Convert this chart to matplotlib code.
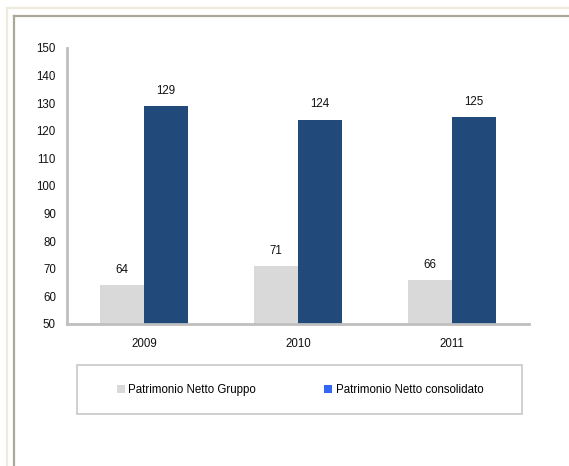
import matplotlib
matplotlib.use("Agg")
import matplotlib.pyplot as plt
from matplotlib.lines import Line2D
from matplotlib.patches import Patch, Rectangle
import numpy as np

plt.rcParams['font.family'] = ['Liberation Sans', 'DejaVu Sans']

# data
years = ["2009", "2010", "2011"]
netto_gruppo = [64, 71, 66]
netto_consolidato = [129, 124, 125]
series_names = ["Patrimonio Netto Gruppo", "Patrimonio Netto consolidato"]

W, H = 569, 466
FS = 8.3
fig = plt.figure(figsize=(W / 100, H / 100), dpi=100)

def px(x, y):
    # pixel coords (from top-left) -> figure fraction
    return x / W, 1 - y / H

# page frame lines
beige = "#EEEBDC"
frame_gray = "#ACA899"
for (x0, y0, x1, y1, c) in [(7, 8, W, 8, beige), (7, 8, 7, H, beige),
                            (14, 16, W, 16, frame_gray), (14, 16, 14, H, frame_gray)]:
    a, b = px(x0, y0)
    c2, d = px(x1, y1)
    fig.add_artist(Line2D([a, c2], [b, d], color=c, lw=1.6, transform=fig.transFigure))

# axes area
left, top, right, bottom = 67, 48, 529, 324
ax = fig.add_axes([left / W, 1 - bottom / H, (right - left) / W, (bottom - top) / H])

x = np.arange(len(years))
w = 0.286
gray = "#D9D9D9"
navy = "#21497A"
b1 = ax.bar(x - w / 2, netto_gruppo, w, color=gray)
b2 = ax.bar(x + w / 2, netto_consolidato, w, color=navy)

for bars, vals in [(b1, netto_gruppo), (b2, netto_consolidato)]:
    for rect, v in zip(bars, vals):
        ax.annotate(str(v), (rect.get_x() + rect.get_width() / 2, v),
                    xytext=(0, 11), textcoords="offset points",
                    ha="center", va="center", fontsize=FS, color="#111111")

ax.set_ylim(50, 150)
ax.set_xlim(-0.5, 2.5)
ax.set_yticks(range(50, 151, 10))
ax.set_xticks(x)
ax.set_xticklabels(years)
ax.tick_params(axis="both", length=0, labelsize=FS, colors="#111111")
ax.tick_params(axis="y", pad=8)
ax.tick_params(axis="x", pad=10)
for s in ["top", "right"]:
    ax.spines[s].set_visible(False)
for s in ["left", "bottom"]:
    ax.spines[s].set_color("#BFBFBF")
    ax.spines[s].set_linewidth(2)

# legend box
lx0, ly0, lx1, ly1 = 77, 365, 522, 414
fx0, fy1 = px(lx0, ly0)
fx1, fy0 = px(lx1, ly1)
fig.add_artist(Rectangle((fx0, fy0), fx1 - fx0, fy1 - fy0, transform=fig.transFigure,
                         facecolor="white", edgecolor="#C8C8C8", lw=1.2))
handles = [Patch(facecolor=gray), Patch(facecolor="#3366F5")]
cx, cy = px(300, 390)
fig.legend(handles, series_names, loc="center", bbox_to_anchor=(cx, cy),
           ncol=2, frameon=False, fontsize=FS, handlelength=0.7, handleheight=0.7,
           handletextpad=0.3, columnspacing=5.9, borderpad=0)

fig.savefig("out.png", dpi=100)
